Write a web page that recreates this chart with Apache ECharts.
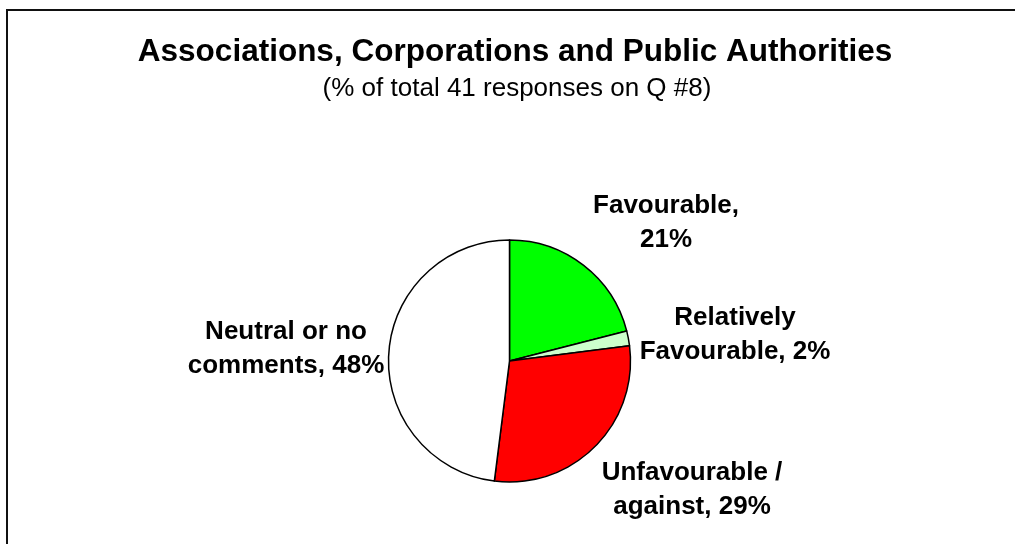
<!DOCTYPE html>
<html>
<head>
<meta charset="utf-8">
<script src="https://cdn.jsdelivr.net/npm/echarts@6/dist/echarts.min.js"></script>
<style>
  html, body { margin: 0; padding: 0; background: #fff; }
  #chart { width: 1015px; height: 544px; }
</style>
</head>
<body>
<div id="chart"></div>
<script>
// Response categories (a '\n' marks where the label wraps) and their shares in %
const categories = ['Favourable', 'Relatively\nFavourable', 'Unfavourable /\nagainst', 'Neutral or no\ncomments'];
const shares = [21, 2, 29, 48];
const sliceColors = ['#00ff00', '#ccffcc', '#ff0000', '#ffffff'];

// Centre points of each label block
const labelAnchors = [[666, 223], [735, 335], [692, 490], [286, 349]];

const chart = echarts.init(document.getElementById('chart'), null, { renderer: 'canvas' });

const font = 'Liberation Sans, Arial, Helvetica, sans-serif';

chart.setOption({
  animation: false,
  backgroundColor: '#ffffff',
  title: [
    {
      text: 'Associations, Corporations and Public Authorities',
      left: 510,
      textAlign: 'center',
      top: 31,
      textStyle: { fontFamily: font, fontSize: 31.5, fontWeight: 'bold', color: '#000', lineHeight: 32 }
    },
    {
      text: '(% of total 41 responses on Q #8)',
      left: 512,
      textAlign: 'center',
      top: 70,
      textStyle: { fontFamily: font, fontSize: 26, fontWeight: 'normal', color: '#000', lineHeight: 27 }
    }
  ],
  graphic: [
    {
      type: 'rect',
      silent: true,
      shape: { x: 7, y: 10, width: 1100, height: 600 },
      style: { fill: 'none', stroke: '#111', lineWidth: 2 }
    }
  ],
  series: [
    {
      type: 'pie',
      center: [509.5, 361],
      radius: 121,
      startAngle: 90,
      clockwise: true,
      avoidLabelOverlap: false,
      itemStyle: { borderColor: '#000', borderWidth: 1.5 },
      emphasis: { disabled: true },
      label: {
        show: true,
        position: 'outside',
        fontFamily: font,
        fontSize: 26,
        fontWeight: 'bold',
        color: '#000',
        lineHeight: 34,
        align: 'center',
        formatter: p => p.name + (p.name.indexOf('\n') >= 0 ? ', ' : ',\n') + p.value + '%'
      },
      labelLine: { show: false },
      labelLayout: p => ({
        x: labelAnchors[p.dataIndex][0],
        y: labelAnchors[p.dataIndex][1],
        align: 'center',
        verticalAlign: 'middle'
      }),
      data: categories.map((name, i) => ({
        name: name,
        value: shares[i],
        itemStyle: { color: sliceColors[i] }
      }))
    }
  ]
});
</script>
</body>
</html>
